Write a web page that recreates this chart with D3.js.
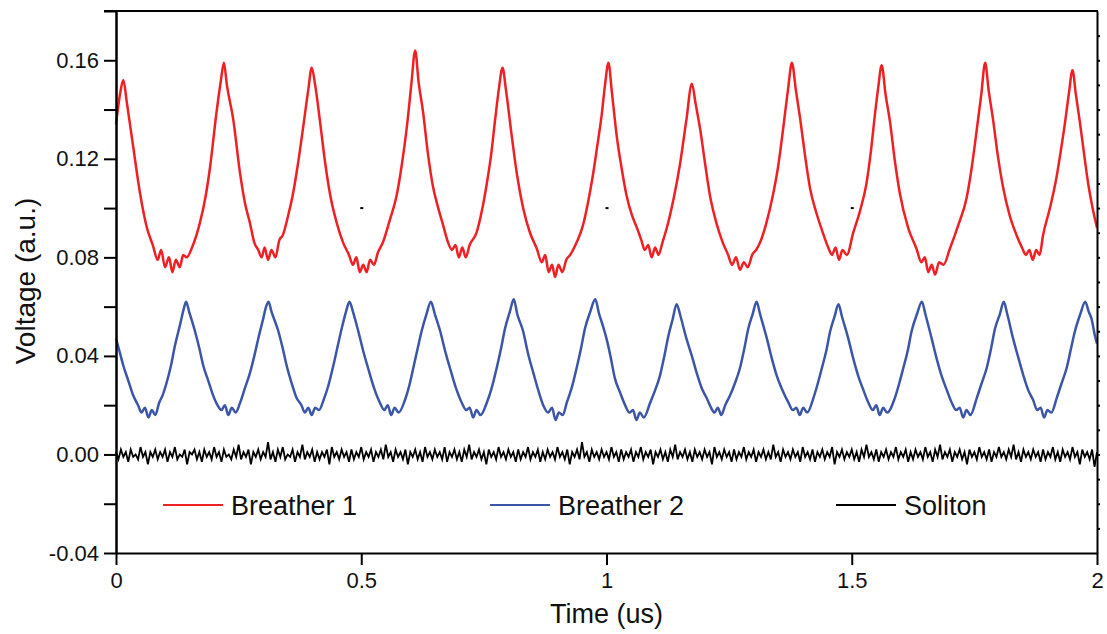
<!DOCTYPE html>
<html>
<head>
<meta charset="utf-8">
<script src="https://cdn.jsdelivr.net/npm/d3@7"></script>
<style>
  body { margin: 0; background: #fff; }
  svg { display: block; font-family: "Liberation Sans", Arial, sans-serif; }
  .axis path, .axis line { stroke: #000; stroke-width: 2; }
  .axis text { font-size: 22px; fill: #111; font-family: "Liberation Sans", Arial, sans-serif; }
</style>
</head>
<body>
<svg id="chart" width="1107" height="634"></svg>
<script>
// ---- data ----
var yMajor = [-0.04, 0.00, 0.04, 0.08, 0.12, 0.16];
var yMinor = [-0.02, 0.02, 0.06, 0.10, 0.14, 0.18];
var xMajor = [0, 0.5, 1, 1.5, 2];
var xLabels = ["0", "0.5", "1", "1.5", "2"];
var legendLabels = ["Breather 1", "Breather 2", "Soliton"];
var seriesColors = ["#ee2024", "#3b56a6", "#000000"];

// Breather 1: [time (us), voltage]
var breather1 = [
[0.000,0.134],[0.008,0.146],[0.015,0.152],[0.022,0.143],[0.035,0.125],[0.049,0.106],[0.063,0.092],[0.075,0.085],
[0.085,0.079],[0.092,0.083],[0.100,0.076],[0.108,0.080],[0.115,0.074],[0.122,0.079],[0.130,0.076],[0.137,0.081],
[0.144,0.080],[0.155,0.084],[0.171,0.094],[0.182,0.104],[0.192,0.117],[0.205,0.139],[0.214,0.152],[0.220,0.159],
[0.226,0.150],[0.239,0.136],[0.253,0.114],[0.263,0.102],[0.273,0.094],[0.282,0.086],[0.290,0.083],[0.297,0.080],
[0.303,0.084],[0.310,0.079],[0.317,0.083],[0.325,0.080],[0.333,0.087],[0.340,0.089],[0.351,0.097],[0.361,0.106],
[0.371,0.118],[0.381,0.132],[0.392,0.148],[0.399,0.157],[0.406,0.150],[0.416,0.135],[0.426,0.119],[0.436,0.106],
[0.450,0.094],[0.463,0.086],[0.475,0.081],[0.483,0.077],[0.490,0.080],[0.497,0.074],[0.504,0.077],[0.511,0.074],
[0.518,0.079],[0.526,0.077],[0.534,0.082],[0.544,0.086],[0.558,0.095],[0.572,0.105],[0.583,0.118],[0.593,0.133],
[0.602,0.150],[0.610,0.164],[0.617,0.151],[0.626,0.139],[0.636,0.122],[0.646,0.109],[0.657,0.100],[0.667,0.093],
[0.677,0.086],[0.685,0.083],[0.692,0.085],[0.699,0.080],[0.706,0.084],[0.713,0.080],[0.721,0.085],[0.735,0.090],
[0.746,0.099],[0.756,0.110],[0.765,0.122],[0.773,0.136],[0.781,0.149],[0.788,0.157],[0.795,0.148],[0.807,0.129],
[0.818,0.113],[0.830,0.100],[0.844,0.090],[0.858,0.0835],[0.868,0.078],[0.875,0.081],[0.882,0.074],[0.889,0.077],
[0.895,0.072],[0.902,0.077],[0.910,0.074],[0.918,0.079],[0.926,0.081],[0.939,0.086],[0.952,0.093],[0.962,0.102],
[0.972,0.113],[0.981,0.125],[0.990,0.1375],[0.997,0.150],[1.004,0.159],[1.011,0.147],[1.021,0.129],[1.031,0.116],
[1.041,0.105],[1.052,0.097],[1.062,0.092],[1.071,0.087],[1.078,0.083],[1.085,0.085],[1.092,0.080],[1.099,0.084],
[1.106,0.081],[1.114,0.086],[1.123,0.092],[1.137,0.104],[1.150,0.118],[1.163,0.136],[1.174,0.1505],[1.182,0.142],
[1.191,0.132],[1.201,0.118],[1.211,0.105],[1.224,0.094],[1.237,0.086],[1.248,0.081],[1.256,0.077],[1.264,0.080],
[1.272,0.075],[1.280,0.078],[1.288,0.076],[1.297,0.081],[1.305,0.083],[1.313,0.086],[1.326,0.094],[1.339,0.105],
[1.350,0.117],[1.360,0.132],[1.370,0.148],[1.378,0.159],[1.386,0.148],[1.395,0.136],[1.405,0.121],[1.415,0.108],
[1.428,0.098],[1.441,0.090],[1.452,0.084],[1.460,0.081],[1.467,0.084],[1.474,0.079],[1.481,0.083],[1.490,0.081],
[1.503,0.090],[1.517,0.099],[1.530,0.110],[1.539,0.123],[1.547,0.1375],[1.554,0.149],[1.561,0.158],[1.569,0.146],
[1.578,0.135],[1.588,0.119],[1.598,0.106],[1.615,0.092],[1.632,0.0835],[1.642,0.078],[1.649,0.080],[1.656,0.074],
[1.663,0.077],[1.670,0.073],[1.678,0.078],[1.687,0.077],[1.700,0.0835],[1.717,0.093],[1.734,0.104],[1.745,0.117],
[1.755,0.132],[1.764,0.146],[1.772,0.159],[1.779,0.148],[1.788,0.136],[1.798,0.121],[1.808,0.109],[1.822,0.097],
[1.836,0.089],[1.847,0.084],[1.855,0.081],[1.862,0.083],[1.869,0.079],[1.876,0.083],[1.883,0.081],[1.890,0.089],
[1.904,0.100],[1.917,0.112],[1.926,0.123],[1.935,0.135],[1.943,0.147],[1.950,0.156],[1.957,0.146],[1.965,0.135],
[1.973,0.123],[1.982,0.110],[1.991,0.100],[2.000,0.092]
];

// Breather 2: [time (us), voltage]
var breather2 = [
[0.000,0.047],[0.007,0.042],[0.015,0.036],[0.025,0.030],[0.035,0.024],[0.045,0.020],[0.052,0.017],[0.059,0.019],
[0.066,0.015],[0.073,0.018],[0.080,0.016],[0.088,0.021],[0.095,0.024],[0.103,0.029],[0.112,0.036],[0.120,0.044],
[0.131,0.053],[0.138,0.059],[0.143,0.062],[0.149,0.058],[0.161,0.050],[0.170,0.043],[0.178,0.036],[0.188,0.030],
[0.198,0.024],[0.207,0.020],[0.215,0.018],[0.222,0.020],[0.229,0.016],[0.236,0.019],[0.244,0.017],[0.253,0.021],
[0.263,0.027],[0.273,0.033],[0.282,0.040],[0.290,0.047],[0.300,0.055],[0.306,0.060],[0.311,0.062],[0.317,0.058],
[0.331,0.050],[0.340,0.043],[0.348,0.036],[0.358,0.029],[0.368,0.023],[0.378,0.020],[0.385,0.017],[0.392,0.019],
[0.399,0.016],[0.406,0.019],[0.414,0.018],[0.423,0.022],[0.433,0.028],[0.443,0.036],[0.452,0.044],[0.460,0.051],
[0.469,0.058],[0.476,0.062],[0.483,0.058],[0.494,0.050],[0.504,0.042],[0.514,0.035],[0.526,0.027],[0.538,0.021],
[0.547,0.018],[0.554,0.020],[0.561,0.016],[0.568,0.019],[0.576,0.017],[0.589,0.022],[0.598,0.028],[0.606,0.035],
[0.615,0.043],[0.623,0.050],[0.633,0.057],[0.642,0.062],[0.650,0.057],[0.661,0.050],[0.671,0.042],[0.681,0.035],
[0.693,0.027],[0.705,0.021],[0.714,0.018],[0.721,0.019],[0.728,0.015],[0.735,0.018],[0.743,0.016],[0.756,0.021],
[0.766,0.027],[0.776,0.035],[0.785,0.043],[0.793,0.051],[0.803,0.058],[0.811,0.063],[0.818,0.057],[0.830,0.050],
[0.840,0.041],[0.851,0.033],[0.861,0.026],[0.871,0.020],[0.881,0.017],[0.889,0.019],[0.896,0.014],[0.903,0.017],
[0.911,0.016],[0.919,0.021],[0.929,0.027],[0.939,0.035],[0.948,0.043],[0.956,0.051],[0.967,0.058],[0.977,0.063],
[0.985,0.057],[0.993,0.052],[1.000,0.047],[1.008,0.040],[1.017,0.031],[1.028,0.025],[1.038,0.020],[1.047,0.017],
[1.054,0.018],[1.061,0.014],[1.068,0.017],[1.076,0.015],[1.089,0.021],[1.099,0.026],[1.109,0.032],[1.118,0.040],
[1.126,0.048],[1.135,0.055],[1.143,0.061],[1.151,0.056],[1.163,0.047],[1.174,0.040],[1.184,0.033],[1.194,0.027],
[1.204,0.023],[1.213,0.019],[1.220,0.017],[1.227,0.019],[1.234,0.016],[1.242,0.020],[1.252,0.024],[1.262,0.029],
[1.272,0.035],[1.281,0.043],[1.289,0.051],[1.298,0.057],[1.306,0.062],[1.313,0.057],[1.327,0.047],[1.337,0.039],
[1.347,0.032],[1.359,0.026],[1.371,0.021],[1.380,0.018],[1.387,0.019],[1.394,0.016],[1.401,0.019],[1.409,0.017],
[1.422,0.023],[1.431,0.029],[1.439,0.035],[1.448,0.042],[1.456,0.050],[1.465,0.056],[1.473,0.061],[1.480,0.056],
[1.493,0.047],[1.503,0.039],[1.513,0.032],[1.524,0.026],[1.534,0.021],[1.543,0.018],[1.550,0.020],[1.557,0.016],
[1.564,0.019],[1.572,0.017],[1.588,0.023],[1.597,0.029],[1.605,0.035],[1.614,0.042],[1.622,0.050],[1.633,0.057],
[1.643,0.062],[1.650,0.057],[1.663,0.047],[1.673,0.039],[1.683,0.032],[1.694,0.026],[1.704,0.021],[1.713,0.018],
[1.720,0.019],[1.727,0.015],[1.734,0.018],[1.742,0.016],[1.755,0.023],[1.765,0.029],[1.775,0.035],[1.784,0.043],
[1.792,0.051],[1.802,0.057],[1.810,0.062],[1.817,0.057],[1.829,0.047],[1.840,0.039],[1.850,0.032],[1.860,0.026],
[1.870,0.022],[1.878,0.018],[1.885,0.019],[1.892,0.015],[1.899,0.018],[1.907,0.017],[1.918,0.023],[1.928,0.029],
[1.938,0.035],[1.947,0.043],[1.955,0.050],[1.966,0.057],[1.976,0.062],[1.983,0.058],[1.989,0.055],[1.996,0.048],
[2.000,0.045]
];

// Soliton: voltage sampled every 0.005 us from t = 0
var solitonStep = 0.005;
var soliton = [
.001,-.002,.002,-.001,.001,-.003,.002,-.001,0,-.002,.003,-.001,.001,-.004,.001,-.001,.002,-.002,.001,-.001,
.002,-.003,.001,-.001,.003,-.002,0,-.001,.002,-.004,.001,0,.002,-.002,.001,-.003,.002,-.001,.001,-.002,
.003,-.001,.001,-.003,.002,-.001,0,-.002,.002,-.001,.004,-.002,.001,-.001,.002,-.004,.001,-.001,.002,-.002,
.001,-.001,.005,-.002,.001,-.003,.002,-.001,.003,-.002,0,-.001,.002,-.003,.001,-.001,.004,-.002,.001,-.001,
.002,-.003,.001,-.002,.001,-.001,.002,-.004,.003,-.001,.001,-.002,.002,-.001,.001,-.003,.002,-.002,.001,-.001,
.003,-.002,.001,-.001,.002,-.003,.001,-.001,.002,-.002,.004,-.001,.001,-.003,.002,-.001,.001,-.002,.002,-.004,
.001,-.001,.002,-.002,.001,-.003,.003,-.001,.001,-.002,.002,-.001,.001,-.002,.003,-.003,.001,-.001,.002,-.002,
.001,-.003,.002,-.001,.004,-.002,.001,-.001,.002,-.002,.001,-.004,.002,-.001,.001,-.002,.003,-.001,.001,-.002,
.002,-.001,.001,-.003,.002,-.002,.001,-.001,.003,-.002,.001,-.001,.002,-.003,.001,-.002,.002,-.001,.001,-.002,
.003,-.001,.001,-.002,.002,-.004,.001,-.001,.002,-.002,.005,-.001,.001,-.003,.002,-.001,.001,-.002,.002,-.001,
.001,-.002,.003,-.001,.001,-.003,.002,-.002,.001,-.001,.002,-.003,.001,-.001,.003,-.002,.001,-.001,.002,-.004,
.001,-.001,.002,-.002,.001,-.003,.002,-.001,.004,-.002,.001,-.001,.002,-.002,.001,-.003,.002,-.001,.001,-.002,
.002,-.001,.001,-.004,.003,-.001,.001,-.002,.002,-.001,.001,-.003,.002,-.002,.001,-.001,.003,-.002,.001,-.001,
.002,-.003,.001,-.001,.002,-.002,.001,-.002,.004,-.001,.001,-.003,.002,-.001,.001,-.002,.002,-.001,.001,-.003,
.003,-.001,.001,-.002,.002,-.003,.001,-.001,.002,-.002,.001,-.001,.003,-.004,.001,-.001,.002,-.002,.001,-.001,
.002,-.002,.001,-.003,.002,-.001,.004,-.001,.001,-.002,.002,-.003,.001,-.001,.002,-.002,.001,-.001,.003,-.002,
.001,-.001,.002,-.003,.001,-.002,.002,-.001,.001,-.002,.003,-.001,.001,-.003,.002,-.001,.004,-.002,.001,-.001,
.002,-.003,.001,-.001,.002,-.002,.001,-.004,.002,-.001,.001,-.002,.003,-.001,.001,-.002,.002,-.003,.001,-.001,
.003,-.001,.001,-.002,.002,-.001,.004,-.002,.001,-.003,.002,-.001,.001,-.002,.002,-.001,.001,-.003,.002,-.002,
.001,-.001,.003,-.002,.001,-.003,.002,-.001,.001,-.002,.003,-.001,.001,-.004,.002,-.001,.001,-.002,.002,-.005,
.001
];

// little stray marks visible in the plot at V = 0.10
var strayMarks = [0.5, 1, 1.5];

// ---- chart ----
var svg = d3.select('#chart');
var margin = {top: 11, left: 116, bottom: 81, right: 10};
var width = 1107, height = 634;

var x = d3.scaleLinear().domain([0, 2]).range([margin.left, width - margin.right]);
var y = d3.scaleLinear().domain([-0.04, 0.18]).range([height - margin.bottom, margin.top]);

var fmt = function(d) { return d3.format(".2f")(d).replace("\u2212", "-"); };

// series
var smooth = d3.line().curve(d3.curveMonotoneX)
    .x(function(d) { return x(d[0]); }).y(function(d) { return y(d[1]); });
var line = d3.line().x(function(d) { return x(d[0]); }).y(function(d) { return y(d[1]); });

svg.append("path").datum(breather1)
    .attr("d", smooth).attr("fill", "none")
    .attr("stroke", seriesColors[0]).attr("stroke-width", 2.5);

svg.append("path").datum(breather2)
    .attr("d", smooth).attr("fill", "none")
    .attr("stroke", seriesColors[1]).attr("stroke-width", 2.5);

svg.append("path").datum(soliton.map(function(v, i) { return [i * solitonStep, v]; }))
    .attr("d", line).attr("fill", "none")
    .attr("stroke", seriesColors[2]).attr("stroke-width", 1.8);

svg.selectAll("rect.stray").data(strayMarks).enter().append("rect")
    .attr("class", "stray")
    .attr("x", function(d) { return x(d) - 1; })
    .attr("y", y(0.10) - 1)
    .attr("width", 3).attr("height", 2).attr("fill", "#000");

// left axis, majors + minors
svg.append("g").attr("class", "axis")
    .attr("transform", "translate(" + margin.left + ",0)")
    .call(d3.axisLeft(y).tickValues(yMajor).tickFormat(fmt).tickSize(12).tickSizeOuter(0).tickPadding(5));
svg.append("g").attr("class", "axis")
    .attr("transform", "translate(" + margin.left + ",0)")
    .call(d3.axisLeft(y).tickValues(yMinor).tickFormat("").tickSize(12).tickSizeOuter(0));

// bottom axis
svg.append("g").attr("class", "axis")
    .attr("transform", "translate(0," + y(-0.04) + ")")
    .call(d3.axisBottom(x).tickValues(xMajor).tickFormat(function(d, i) { return xLabels[i]; })
        .tickSize(12).tickSizeOuter(0).tickPadding(7));

// right axis with tiny ticks every 0.01
var rightTicks = d3.range(-3, 18).map(function(k) { return k / 100; });
svg.append("g").attr("class", "axis")
    .attr("transform", "translate(" + x(2) + ",0)")
    .call(d3.axisRight(y).tickValues(rightTicks).tickFormat("").tickSize(3).tickSizeOuter(0));

// top frame
svg.append("line")
    .attr("x1", x(0) - 12).attr("x2", x(2) + 1)
    .attr("y1", y(0.18)).attr("y2", y(0.18))
    .attr("stroke", "#000").attr("stroke-width", 2);

// axis titles
svg.append("text")
    .attr("transform", "translate(" + 35 + "," + 281 + ") rotate(-90)")
    .style("text-anchor", "middle")
    .style("font-size", "28px").attr("fill", "#111")
    .text("Voltage (a.u.)");

svg.append("text")
    .attr("x", (x(0) + x(2)) / 2).attr("y", 623)
    .style("text-anchor", "middle")
    .style("font-size", "27px").attr("fill", "#111")
    .text("Time (us)");

// legend
var legendX = [163, 490, 836];
var legend = svg.selectAll("g.legend").data(legendLabels).enter().append("g")
    .attr("class", "legend")
    .attr("transform", function(d, i) { return "translate(" + legendX[i] + ",505)"; });
legend.append("line").attr("x1", 0).attr("x2", 60).attr("y1", 0).attr("y2", 0)
    .attr("stroke", function(d, i) { return seriesColors[i]; }).attr("stroke-width", 2);
legend.append("text").attr("x", 68).attr("y", 10)
    .style("font-size", "27px").attr("fill", "#111")
    .text(function(d) { return d; });
</script>
</body>
</html>
